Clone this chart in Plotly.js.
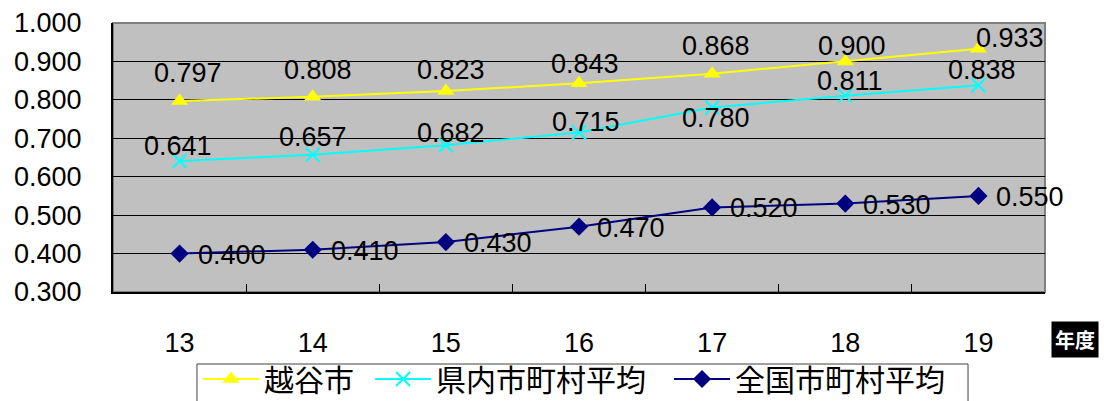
<!DOCTYPE html>
<html>
<head>
<meta charset="utf-8">
<script src="https://cdn.plot.ly/plotly-3.0.1.min.js"></script>
<style>
  html, body { margin: 0; padding: 0; background: #fff; }
  #chart { width: 1104px; height: 401px; }
</style>
</head>
<body>
<div id="chart"></div>
<script>
// Fiscal years (Heisei) on the category axis
const years = ['13', '14', '15', '16', '17', '18', '19'];

// Series values
const koshigaya = [0.797, 0.808, 0.823, 0.843, 0.868, 0.900, 0.933];
const prefAvg   = [0.641, 0.657, 0.682, 0.715, 0.780, 0.811, 0.838];
const nationAvg = [0.400, 0.410, 0.430, 0.470, 0.520, 0.530, 0.550];

// Series names
const seriesNames = ['越谷市', '県内市町村平均', '全国市町村平均'];
const axisUnit = '年度';

// Label nudges in pixels [xshift, yshift] for each point
const koshigayaNudge = [[8, 28], [5, 27], [5, 21], [6, 19], [4, 28], [7, 15], [32, 11]];
const prefNudge      = [[-2, 15], [0, 18], [5, 12], [7, 11], [4, -10], [5, 15], [4, 15]];

const labelFont = { family: 'Liberation Sans, Arial, sans-serif', size: 27, color: '#000' };

const traces = [
  {
    x: years, y: koshigaya, name: seriesNames[0], type: 'scatter', mode: 'lines+markers',
    legend: 'legend',
    line: { color: '#FFFF00', width: 2 },
    marker: { symbol: 'triangle-up', size: 15, color: '#FFFF00' }
  },
  {
    x: years, y: prefAvg, name: seriesNames[1], type: 'scatter', mode: 'lines+markers',
    legend: 'legend2',
    line: { color: '#00FFFF', width: 2 },
    marker: { symbol: 'x-thin', size: 14, color: '#00FFFF', line: { color: '#00FFFF', width: 2 } }
  },
  {
    x: years, y: nationAvg, name: seriesNames[2], type: 'scatter', mode: 'lines+markers',
    legend: 'legend3',
    line: { color: '#000080', width: 2 },
    marker: { symbol: 'diamond', size: 14, color: '#000080' }
  }
];

// Value labels; category positions are given by index on the category axis
const annotations = [];
years.forEach((yr, i) => {
  annotations.push({
    x: i, y: koshigaya[i], xref: 'x', yref: 'y', text: koshigaya[i].toFixed(3),
    showarrow: false, xanchor: 'center', yanchor: 'middle',
    xshift: koshigayaNudge[i][0], yshift: koshigayaNudge[i][1], font: labelFont
  });
  annotations.push({
    x: i, y: prefAvg[i], xref: 'x', yref: 'y', text: prefAvg[i].toFixed(3),
    showarrow: false, xanchor: 'center', yanchor: 'middle',
    xshift: prefNudge[i][0], yshift: prefNudge[i][1], font: labelFont
  });
  annotations.push({
    x: i, y: nationAvg[i], xref: 'x', yref: 'y', text: nationAvg[i].toFixed(3),
    showarrow: false, xanchor: 'left', yanchor: 'middle',
    xshift: 16, yshift: -1, font: labelFont
  });
});

// Unit tag at the right end of the category axis
annotations.push({
  x: 1.032, y: -0.178, xref: 'paper', yref: 'paper', text: '<b>' + axisUnit + '</b>',
  showarrow: false, xanchor: 'center', yanchor: 'middle',
  bgcolor: '#000', borderpad: 3,
  font: { family: 'Noto Sans CJK JP, sans-serif', size: 20, color: '#fff' }
});

// Three legend groups share one framed box below the plot
const legendBase = {
  orientation: 'h', y: -0.2268, xanchor: 'left', yanchor: 'top',
  bgcolor: 'rgba(0,0,0,0)', borderwidth: 0,
  font: { family: 'Noto Sans CJK JP, sans-serif', size: 30, color: '#000' },
  itemwidth: 56
};

const layout = {
  width: 1104, height: 401,
  margin: { l: 113, r: 59, t: 23, b: 109, autoexpand: false },
  paper_bgcolor: '#fff',
  plot_bgcolor: '#C0C0C0',
  showlegend: true,
  legend:  Object.assign({}, legendBase, { x: 0.0912 }),
  legend2: Object.assign({}, legendBase, { x: 0.2758 }),
  legend3: Object.assign({}, legendBase, { x: 0.5966 }),
  xaxis: {
    type: 'category', range: [-0.5, 6.5],
    showgrid: false, zeroline: false,
    showline: true, linecolor: '#000', linewidth: 2,
    ticks: 'inside', ticklen: 8, tickcolor: '#000', tickwidth: 1,
    tickson: 'boundaries',
    ticklabelstandoff: 26,
    tickfont: { family: 'Liberation Sans, Arial, sans-serif', size: 27, color: '#000' }
  },
  yaxis: {
    range: [0.3, 1.0], dtick: 0.1, tick0: 0.3, tickformat: '.3f',
    showgrid: true, gridcolor: '#000', gridwidth: 1,
    zeroline: false,
    showline: true, linecolor: '#000', linewidth: 2,
    ticks: 'inside', ticklen: 6, tickcolor: '#000', tickwidth: 1,
    ticklabelstandoff: 24,
    tickfont: { family: 'Liberation Sans, Arial, sans-serif', size: 27, color: '#000' }
  },
  shapes: [
    {
      type: 'rect', xref: 'paper', yref: 'paper', x0: 0, x1: 1, y0: 0, y1: 1,
      line: { color: '#808080', width: 2 }, layer: 'below'
    },
    {
      type: 'rect', xref: 'paper', yref: 'paper', x0: 0.0901, x1: 0.9174, y0: -0.5, y1: -0.2677,
      line: { color: '#404040', width: 1 }, fillcolor: '#fff', layer: 'below'
    }
  ],
  annotations: annotations
};

Plotly.newPlot('chart', traces, layout, { displayModeBar: false, staticPlot: true });
</script>
</body>
</html>
